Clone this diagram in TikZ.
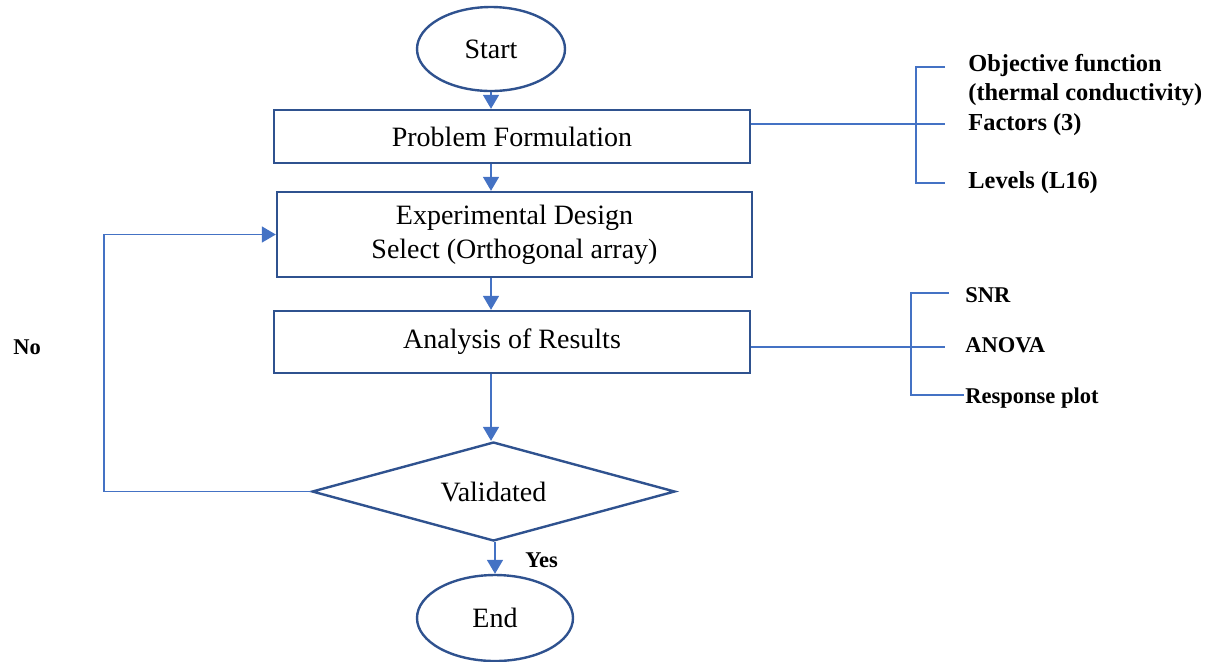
\documentclass[tikz,border=0pt]{standalone}
\usepackage{fontspec}
\setmainfont{Liberation Serif}
\usetikzlibrary{shapes.geometric,arrows.meta}
\definecolor{boxblue}{HTML}{2F528F}
\definecolor{lineblue}{HTML}{4472C4}
\begin{document}
\begin{tikzpicture}[x=0.5pt,y=-0.5pt,
  mainfont/.style={font=\fontsize{14}{17}\selectfont},
  box/.style={draw=boxblue,line width=1.2pt,rectangle,inner sep=0pt,mainfont,align=center},
  term/.style={draw=boxblue,line width=1.2pt,ellipse,inner sep=0pt,mainfont},
  dec/.style={draw=boxblue,line width=1.2pt,diamond,aspect=3.67,inner sep=0pt,mainfont},
  flow/.style={draw=lineblue,line width=0.8pt,-{Triangle[width=8pt,length=7pt]}},
  link/.style={draw=lineblue,line width=0.65pt},
  lbl/.style={font=\bfseries\fontsize{12.2}{15}\selectfont,anchor=base west,inner sep=0pt},
  lbltwo/.style={font=\bfseries\fontsize{11.25}{14}\selectfont,anchor=base west,inner sep=0pt},
]
\useasboundingbox (0,0) rectangle (1219,661);

% main flow
\node[term,minimum width=74pt,minimum height=42pt] (start) at (491,49) {\raisebox{-2pt}{Start}};
\node[box,minimum width=238pt,minimum height=26.5pt] (prob) at (512,136.5) {Problem Formulation};
\node[box,minimum width=237.5pt,minimum height=42.5pt] (exp) at (514.5,234.5) {Experimental Design\\Select (Orthogonal array)};
\node[box,minimum width=238pt,minimum height=31pt] (ana) at (512,342) {Analysis of Results};
\node[dec,minimum width=181.5pt,minimum height=49.5pt] (val) at (493.5,491.5) {Validated};
\node[term,minimum width=78pt,minimum height=43pt] (end) at (495,618) {End};

% side labels
\node[lbl] (obj) at (968,71) {Objective function};
\node[lbl] (obj2) at (968,100) {(thermal conductivity)};
\node[lbl] (fac) at (968,130) {Factors (3)};
\node[lbl] (lev) at (968,188) {Levels (L16)};
\node[lbltwo] (snr) at (965,302) {SNR};
\node[lbltwo] (anova) at (965,352) {ANOVA};
\node[lbltwo] (resp) at (965,403) {Response plot};
\node[lbltwo] (no) at (13,354) {No};
\node[lbltwo] (yes) at (525,567) {Yes};

% flow arrows
\draw[flow] (start.south) -- (start.south |- prob.north);
\draw[flow] (prob.south -| start.south) -- (start.south |- exp.north);
\draw[flow] (exp.south -| start.south) -- (start.south |- ana.north);
\draw[flow] (ana.south -| start.south) -- (start.south |- val.north);
\draw[flow] (val.south -| end.north) -- (end.north);
\coordinate (lb) at (104,491.5);
\draw[flow] (val.west) -- (lb) |- (exp.west);

% bracket for problem formulation
\coordinate (fj) at (945,124);
\coordinate (ft) at (916,67);
\coordinate (fb) at (916,183);
\draw[link] (prob.east |- fj) -- (fj);
\draw[link] (ft -| fj) -- (ft) -- (fb) -- (fb -| fj);

% bracket for analysis
\coordinate (aj) at (945,347);
\coordinate (at) at (911,293);
\coordinate (ate) at (949,293);
\coordinate (ab) at (911,395);
\coordinate (abe) at (964,395);
\draw[link] (ana.east |- aj) -- (aj);
\draw[link] (ate) -- (at) -- (ab) -- (abe);
\end{tikzpicture}
\end{document}
